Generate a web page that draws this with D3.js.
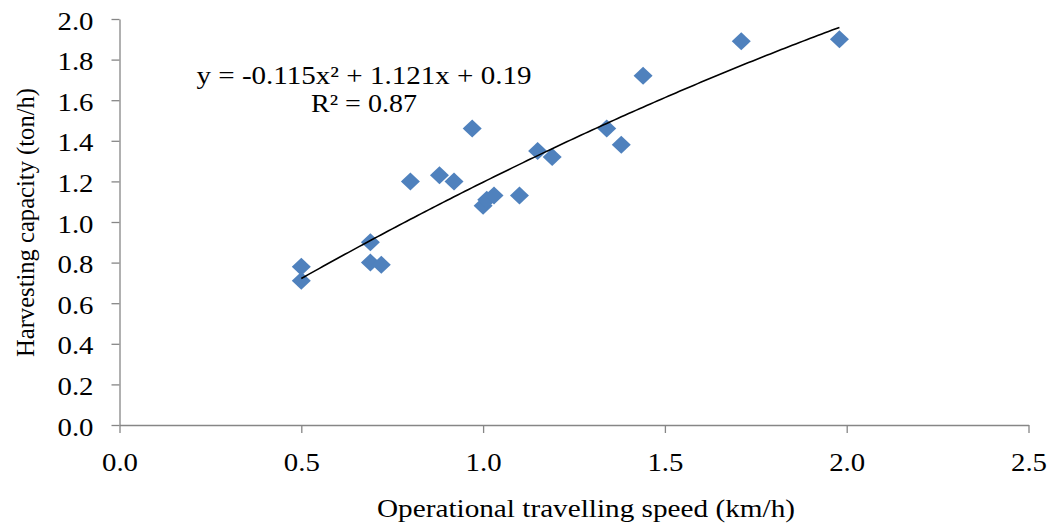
<!DOCTYPE html>
<html>
<head>
<meta charset="utf-8">
<script src="https://cdn.jsdelivr.net/npm/d3@7/dist/d3.min.js"></script>
<style>
  html, body { margin: 0; padding: 0; background: #fff; }
  svg { display: block; font-family: 'Liberation Serif', 'Times New Roman', serif; }
</style>
</head>
<body>
<svg id="chart" width="1049" height="523"></svg>
<script>
// operational speed (km/h) and harvesting capacity (ton/h)
const speed = [0.50, 0.50, 0.69, 0.69, 0.72, 0.80, 0.88, 0.92, 0.97, 1.00,
  1.01, 1.03, 1.10, 1.15, 1.19, 1.34, 1.38, 1.44, 1.71, 1.98]
const capacity = [0.78, 0.71, 0.90, 0.80, 0.79, 1.20, 1.23, 1.20, 1.46, 1.08,
  1.11, 1.13, 1.13, 1.35, 1.32, 1.46, 1.38, 1.72, 1.89, 1.90]

// polynomial trendline: a x^2 + b x + c
const trendCoef = [-0.115, 1.121, 0.19]
const trendRange = [0.50, 1.98]

const xTicks = [0, 0.5, 1.0, 1.5, 2.0, 2.5]
const yTicks = [0, 0.2, 0.4, 0.6, 0.8, 1.0, 1.2, 1.4, 1.6, 1.8, 2.0]

const eqLabel = 'y = -0.115x² + 1.121x + 0.19'
const r2Label = 'R² = 0.87'
const xTitle = 'Operational travelling speed (km/h)'
const yTitle = 'Harvesting capacity (ton/h)'

const svg = d3.select('#chart')
const margin = { top: 19, right: 20.5, bottom: 98, left: 119.5 }
const width = 1049, height = 523
const innerW = width - margin.left - margin.right
const innerH = height - margin.top - margin.bottom

const g = svg.append('g').attr('transform', `translate(${margin.left},${margin.top})`)

const x = d3.scaleLinear().domain([0, 2.5]).range([0, innerW])
const y = d3.scaleLinear().domain([0, 2.0]).range([innerH, 0])

const axisColor = '#868686'
const serif = "'Liberation Serif', 'Times New Roman', serif"

const xAxis = g.append('g')
  .attr('transform', `translate(0,${innerH})`)
  .call(d3.axisBottom(x).tickValues(xTicks).tickFormat(d3.format('.1f')).tickSize(8).tickSizeOuter(0).tickPadding(20))
const yAxis = g.append('g')
  .call(d3.axisLeft(y).tickValues(yTicks).tickFormat(d3.format('.1f')).tickSize(8).tickSizeOuter(0).tickPadding(18))

for (const ax of [xAxis, yAxis]) {
  ax.attr('font-family', serif).attr('font-size', 25)
  ax.select('.domain').attr('stroke', axisColor).attr('stroke-width', 1.3)
  ax.selectAll('.tick line').attr('stroke', axisColor).attr('stroke-width', 1.3)
  ax.selectAll('text')
    .attr('fill', '#000')
    .attr('textLength', 36)
    .attr('lengthAdjust', 'spacingAndGlyphs')
}
yAxis.selectAll('text').attr('dy', '0.4em')

// trendline drawn from its equation
const trend = d3.range(trendRange[0], trendRange[1] + 1e-9, 0.01).concat([trendRange[1]])
  .map(v => [v, trendCoef[0] * v * v + trendCoef[1] * v + trendCoef[2]])

const pts = speed.map((s, i) => ({ s, c: capacity[i] }))

const diamond = 'M0,-9L9.5,0L0,9L-9.5,0Z'
g.selectAll('path.pt')
  .data(pts)
  .enter()
  .append('path')
  .attr('class', 'pt')
  .attr('d', diamond)
  .attr('transform', d => `translate(${x(d.s)},${y(d.c)})`)
  .attr('fill', '#4f81bd')

g.append('path')
  .datum(trend)
  .attr('fill', 'none')
  .attr('stroke', '#000')
  .attr('stroke-width', 1.6)
  .attr('d', d3.line().x(d => x(d[0])).y(d => y(d[1])))

// equation labels
svg.append('text')
  .attr('x', 364).attr('y', 83.5)
  .attr('text-anchor', 'middle')
  .attr('font-size', 25)
  .attr('textLength', 335)
  .attr('lengthAdjust', 'spacingAndGlyphs')
  .text(eqLabel)
svg.append('text')
  .attr('x', 364).attr('y', 112)
  .attr('text-anchor', 'middle')
  .attr('font-size', 25)
  .attr('textLength', 106)
  .attr('lengthAdjust', 'spacingAndGlyphs')
  .text(r2Label)

// axis titles
svg.append('text')
  .attr('x', 586).attr('y', 516.5)
  .attr('text-anchor', 'middle')
  .attr('font-size', 26)
  .attr('textLength', 418)
  .attr('lengthAdjust', 'spacingAndGlyphs')
  .text(xTitle)

svg.append('text')
  .attr('transform', 'translate(34,222.5) rotate(-90)')
  .attr('text-anchor', 'middle')
  .attr('font-size', 25)
  .attr('textLength', 269)
  .attr('lengthAdjust', 'spacingAndGlyphs')
  .text(yTitle)
</script>
</body>
</html>
